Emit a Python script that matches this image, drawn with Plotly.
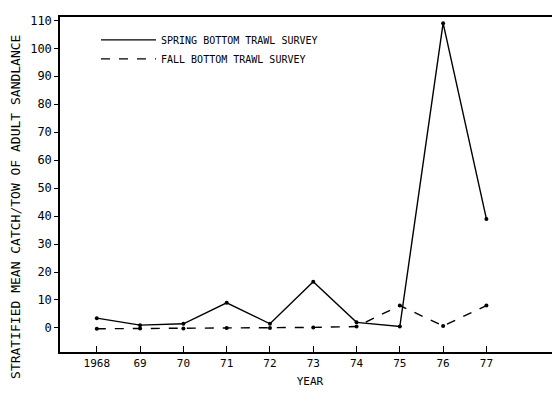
import plotly.graph_objects as go

years = [1968, 1969, 1970, 1971, 1972, 1973, 1974, 1975, 1976, 1977]
year_labels = ["1968", "69", "70", "71", "72", "73", "74", "75", "76", "77"]
spring = [3.5, 1.0, 1.5, 9.0, 1.5, 16.5, 2.0, 0.5, 109.0, 39.0]
fall = [-0.3, -0.2, -0.2, 0.0, 0.0, 0.2, 0.5, 8.0, 0.7, 8.0]
y_ticks = [0, 10, 20, 30, 40, 50, 60, 70, 80, 90, 100, 110]

font_family = "DejaVu Sans, Arial, sans-serif"
mono = "DejaVu Sans Mono, Liberation Mono, monospace"

fig = go.Figure()
fig.add_trace(go.Scatter(
    x=years, y=spring, mode="lines",
    name="SPRING BOTTOM TRAWL SURVEY",
    line=dict(color="black", width=1.4, dash="solid"),
))
fig.add_trace(go.Scatter(
    x=years, y=fall, mode="lines",
    name="FALL BOTTOM TRAWL SURVEY",
    line=dict(color="black", width=1.4, dash="dash"),
))
fig.add_trace(go.Scatter(
    x=years, y=spring, mode="markers", showlegend=False,
    marker=dict(color="black", size=4),
))
fig.add_trace(go.Scatter(
    x=years, y=fall, mode="markers", showlegend=False,
    marker=dict(color="black", size=4),
))

fig.update_layout(
    width=552, height=409,
    paper_bgcolor="white", plot_bgcolor="white",
    margin=dict(l=52, r=0, t=9, b=65),
    font=dict(family=font_family, color="black", size=10),
    showlegend=True,
    legend=dict(
        x=0.072, y=0.975, xanchor="left", yanchor="top",
        bgcolor="rgba(0,0,0,0)", borderwidth=0,
        font=dict(size=10, color="black", family=mono),
        itemwidth=55, tracegroupgap=0,
    ),
    xaxis=dict(
        range=[1967.15, 1978.7],
        tickvals=years, ticktext=year_labels,
        ticks="inside", ticklen=6, tickcolor="black", tickwidth=1.2,
        showline=True, linecolor="black", linewidth=1.5, mirror=True,
        showgrid=False, zeroline=False,
        tickfont=dict(size=11, color="black", family=mono),
        title=dict(text="YEAR", font=dict(size=11, color="black", family=mono), standoff=8),
    ),
    yaxis=dict(
        range=[-8.6, 111.2],
        tickvals=y_ticks,
        ticks="outside", ticklen=4, tickcolor="black", tickwidth=1,
        showline=True, linecolor="black", linewidth=1.5, mirror=False,
        showgrid=False, zeroline=False,
        tickfont=dict(size=12, color="black", family=mono),
    ),
    annotations=[dict(
        text="STRATIFIED MEAN CATCH/TOW OF ADULT SANDLANCE",
        xref="paper", yref="paper", x=-0.088, y=0.433,
        xanchor="center", yanchor="middle", textangle=-90,
        showarrow=False, font=dict(size=13, color="black", family=mono),
    )],
)

fig.write_html("out.html")
